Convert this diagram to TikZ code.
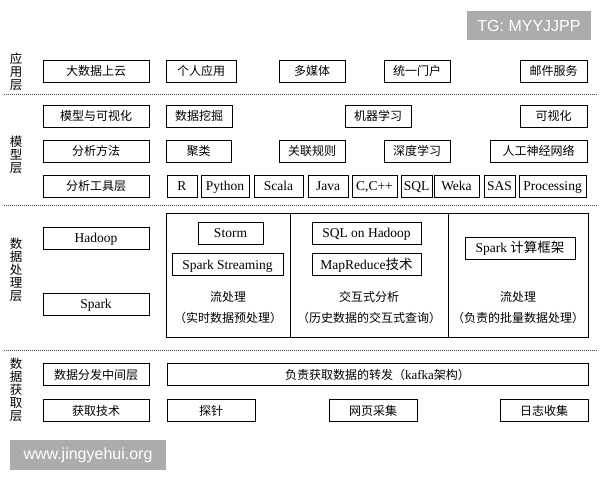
\documentclass[tikz,border=0pt]{standalone}
\usepackage{fontspec}
\setmainfont{Liberation Serif}
\newfontfamily\cjk{Noto Sans CJK SC}
\newfontfamily\wmfont{Liberation Sans}

\tikzset{
    box/.style={draw, line width=0.8pt, inner sep=0pt, minimum height=22pt, text height=11pt, text depth=2pt, font=\fontsize{13.5}{15}\selectfont},
    cbox/.style={box, font=\cjk\fontsize{12}{14}\selectfont},
    layer/.style={align=center, inner sep=0pt, font=\cjk\fontsize{12.5}{13}\selectfont},
    ctext/.style={inner sep=0pt, font=\cjk\fontsize{12}{14}\selectfont},
    sep/.style={black!70, dash pattern=on 0.9pt off 1.1pt, line width=0.9pt},
    wmark/.style={fill=gray!65, text=white, inner sep=0pt, font=\wmfont\fontsize{16}{18}\selectfont}
}

\begin{document}
\begin{tikzpicture}[x=1pt, y=-1pt]
        \useasboundingbox[fill=white] (0,0) rectangle (600,480);

        % watermarks
        \node[wmark, minimum width=124pt, minimum height=29pt] (tg) at (529,25.5) {TG: MYYJJPP};
        \node[wmark, minimum width=156pt, minimum height=30pt] (www) at (88,455) {www.jingyehui.org};

        % layer names
        \node[layer] (lapp) at (16,72) {应\\用\\层};
        \node[layer] (lmodel) at (16,155) {模\\型\\层};
        \node[layer] (lproc) at (16,270) {数\\据\\处\\理\\层};
        \node[layer] (lacq) at (16,390) {数\\据\\获\\取\\层};

        % separators
        \draw[sep] (4,94) -- (598,94);
        \draw[sep] (4,205) -- (598,205);
        \draw[sep] (4,350) -- (598,350);

        % application layer
        \node[cbox, minimum width=106pt] (cloud) at (96,71) {大数据上云};
        \node[cbox, minimum width=70pt] (personal) at (201,71) {个人应用};
        \node[cbox, minimum width=66pt] (media) at (312,71) {多媒体};
        \node[cbox, minimum width=66pt] (portal) at (417,71) {统一门户};
        \node[cbox, minimum width=67pt] (mail) at (553.5,71) {邮件服务};

        % model layer
        \node[cbox, minimum width=106pt] (modelvis) at (96,116) {模型与可视化};
        \node[cbox, minimum width=66pt] (mining) at (199,116) {数据挖掘};
        \node[cbox, minimum width=66pt] (ml) at (378,116) {机器学习};
        \node[cbox, minimum width=67pt] (vis) at (553.5,116) {可视化};

        \node[cbox, minimum width=106pt] (methods) at (96,151) {分析方法};
        \node[cbox, minimum width=65pt] (cluster) at (198.5,151) {聚类};
        \node[cbox, minimum width=66pt] (assoc) at (312,151) {关联规则};
        \node[cbox, minimum width=66pt] (deep) at (417,151) {深度学习};
        \node[cbox, minimum width=97pt] (ann) at (538.5,151) {人工神经网络};

        \node[cbox, minimum width=106pt] (tools) at (96,186) {分析工具层};
        \foreach \nm/\cx/\w/\txt in {r/182/30/R, py/225/48/Python, sc/278.5/49/Scala,
                jv/328/40/Java, cpp/374.5/45/{C,C++}, sql/416.5/31/SQL,
                wk/456.5/45/Weka, sas/499.5/31/SAS, proc/552.5/67/Processing}
            \node[box, minimum width=\w pt] (t\nm) at (\cx,186) {\txt};

        % data processing layer
        \node[box, minimum width=106pt] (hadoop) at (96,238) {Hadoop};
        \node[box, minimum width=106pt] (spark) at (96,304) {Spark};

        \draw[line width=0.8pt] (166,213) rectangle (588,337);
        \draw[line width=0.8pt] (290,213) -- (290,337);
        \draw[line width=0.8pt] (448,213) -- (448,337);

        \node[box, minimum width=65pt] (storm) at (230.5,233) {Storm};
        \node[box, minimum width=111pt] (streaming) at (227.5,264.5) {Spark Streaming};
        \node[box, minimum width=109pt] (sqlhadoop) at (366.5,233) {SQL on Hadoop};
        \node[box, minimum width=109pt] (mapreduce) at (366.5,264.5) {MapReduce{\cjk 技术}};
        \node[box, minimum width=110pt] (sparkframe) at (520,248) {Spark {\cjk 计算框架}};

        \node[ctext] (stream1) at (228,297) {流处理};
        \node[ctext] (stream2) at (228,318) {（实时数据预处理）};
        \node[ctext] (inter1) at (369,297) {交互式分析};
        \node[ctext] (inter2) at (369,318) {（历史数据的交互式查询）};
        \node[ctext] (batch1) at (518,297) {流处理};
        \node[ctext] (batch2) at (518,318) {（负责的批量数据处理）};

        % data acquisition layer
        \node[cbox, minimum width=106pt] (dispatch) at (96,374.5) {数据分发中间层};
        \node[cbox, minimum width=421pt] (kafka) at (377.5,374.5) {负责获取数据的转发（{\rmfamily\fontsize{13}{14}\selectfont kafka}架构）};
        \node[cbox, minimum width=106pt] (acquire) at (96,410.5) {获取技术};
        \node[cbox, minimum width=88pt] (probe) at (211,410.5) {探针};
        \node[cbox, minimum width=88pt] (web) at (373,410.5) {网页采集};
        \node[cbox, minimum width=88pt] (logs) at (544,410.5) {日志收集};
    \end{tikzpicture}
\end{document}
